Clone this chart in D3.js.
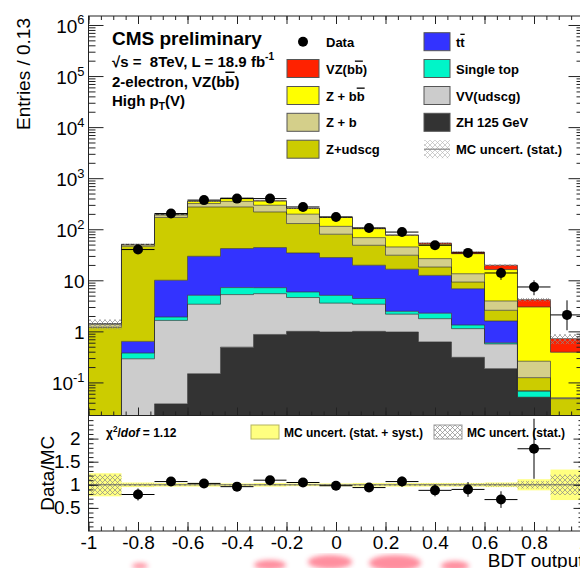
<!DOCTYPE html>
<html>
<head>
<meta charset="utf-8">
<script src="https://cdn.jsdelivr.net/npm/d3@7"></script>
<style>
  body { margin: 0; background: #fff; }
  svg { display: block; font-family: "Liberation Sans", Arial, Helvetica, sans-serif; }
</style>
</head>
<body>
<svg id="chart"></svg>
<script>
// BDT output, 15 bins of 0.133
const binEdges = [-1, -0.8667, -0.7333, -0.6, -0.4667, -0.3333, -0.2, -0.0667, 0.0667, 0.2, 0.3333, 0.4667, 0.6, 0.7333, 0.8667, 1];

// backgrounds, stacked bottom -> top
const zh125     = [0, 0, 0.038, 0.148, 0.49, 0.87, 1.0, 0.97, 1.0, 0.97, 0.62, 0.31, 0.186, 0.051, 0];
const vvUdscg   = [0, 0.29, 1.6, 3.25, 4.76, 4.6, 3.6, 2.6, 2.4, 1.2, 1.15, 0.82, 0.38, 0, 0];
const singleTop = [0, 0.086, 0.27, 1.7, 1.95, 1.7, 1.3, 1.5, 1.0, 0.3, 0.5, 0.2, 0.03, 0.017, 0];
const ttbar     = [0, 0.26, 8.1, 24.4, 34.7, 36.6, 28.4, 22.8, 15.3, 14, 10.2, 5.5, 1.0, 0, 0];
const zUdscg    = [1.2, 45.8, 160, 243, 231, 174, 95, 52, 28.8, 14.5, 5.7, 2.4, 0.99, 0.056, 0.048];
const zB        = [0.2, 3, 20, 46, 78, 77, 68, 34, 20, 14, 8.4, 4.2, 1.35, 0.136, 0.002];
const zBB       = [0, 1, 5, 35, 55, 64, 58, 56, 34, 31, 24.2, 19.8, 12.3, 2.74, 0.34];
const vzBB      = [0, 0.1, 0.1, 0.5, 1, 1, 1.5, 2, 2, 1.5, 2.9, 2.6, 3.5, 1.18, 0.33];

// observed data
const dataCounts = [0, 40, 203, 372, 398, 398, 273, 174, 106, 88, 48.5, 34.4, 13.9, 7.4, 2.1];
const dataErrLo  = [0, 6.3, 14, 19, 20, 20, 16.5, 13, 10, 9.4, 7, 5.9, 3.7, 2.3, 1.05];
const dataErrHi  = [0, 6.3, 14, 19, 20, 20, 16.5, 13, 10, 9.4, 7, 5.9, 3.7, 2.6, 1.95];

// relative MC uncertainties
const mcStatRel = [0.22, 0.03, 0.02, 0.015, 0.015, 0.015, 0.015, 0.015, 0.02, 0.02, 0.025, 0.03, 0.04, 0.08, 0.22];
const mcTotRel  = [0.25, 0.05, 0.04, 0.04, 0.03, 0.04, 0.03, 0.03, 0.04, 0.04, 0.04, 0.04, 0.05, 0.12, 0.33];

// data / MC
const ratioVals = [null, 0.79, 1.07, 1.03, 0.96, 1.10, 1.05, 0.98, 0.94, 1.07, 0.88, 0.90, 0.68, 1.78, null];
const ratioErr  = [0, 0.13, 0.07, 0.05, 0.05, 0.05, 0.06, 0.07, 0.09, 0.11, 0.13, 0.16, 0.18, 0.65, 0];

const xTicks = [-1, -0.8, -0.6, -0.4, -0.2, 0, 0.2, 0.4, 0.6, 0.8, 1];
const logTicks = [0.1, 1, 10, 100, 1e3, 1e4, 1e5, 1e6];
const logTickLabels = ["10^{-1}", "1", "10", "10^{2}", "10^{3}", "10^{4}", "10^{5}", "10^{6}"];
const ratioTicks = [0.5, 1, 1.5, 2];

const keys = ["zh", "vv", "st", "tt", "zudscg", "zb", "zbb", "vz"];
const colors = {
  zh: "#333333", vv: "#cccccc", st: "#00f5c8", tt: "#3333ff",
  zudscg: "#cccc00", zb: "#d4cf8a", zbb: "#ffff00", vz: "#ff2200"
};

const W = 580, H = 568;
const X0 = 88.5, X1 = 583.5;
const upTop = 16, upBot = 415.5, loTop = 415.5, loBot = 531;

const svg = d3.select("#chart").attr("width", W).attr("height", H);

const x = d3.scaleLinear().domain([-1, 1]).range([X0, X1]);
const yUp = d3.scaleLog().domain([0.0225, 1.5e6]).range([upBot, upTop]).clamp(true);
const yLo = d3.scaleLinear().domain([0, 2.5]).range([loBot, loTop]);

const table = binEdges.slice(0, -1).map((lo, i) => ({
  lo, hi: binEdges[i + 1],
  zh: zh125[i], vv: vvUdscg[i], st: singleTop[i], tt: ttbar[i],
  zudscg: zUdscg[i], zb: zB[i], zbb: zBB[i], vz: vzBB[i]
}));
const series = d3.stack().keys(keys)(table);
const totals = table.map(d => d3.sum(keys, k => d[k]));

// text with ^{sup} _{sub} #bar{overline} #it{italic}
function rich(sel, str, size) {
  const re = /#bar\{([^}]*)\}|#it\{([^}]*)\}|\^\{([^}]*)\}|_\{([^}]*)\}|([^#^_]+)/g;
  let m, shift = 0;
  while ((m = re.exec(str)) !== null) {
    let t, target = 0, fs = size, style = null;
    if (m[1] !== undefined) { t = m[1]; style = "text-decoration: overline"; }
    else if (m[2] !== undefined) { t = m[2]; style = "font-style: italic"; }
    else if (m[3] !== undefined) { t = m[3]; target = -0.45 * size; fs = 0.68 * size; }
    else if (m[4] !== undefined) { t = m[4]; target = 0.3 * size; fs = 0.68 * size; }
    else t = m[5];
    const ts = sel.append("tspan").text(t).attr("font-size", fs);
    if (target - shift !== 0) ts.attr("dy", target - shift);
    if (style) ts.attr("style", style);
    shift = target;
  }
  return sel;
}

const defs = svg.append("defs");
defs.append("clipPath").attr("id", "clipUp").append("rect")
  .attr("x", X0).attr("y", upTop).attr("width", X1 - X0).attr("height", upBot - upTop);
defs.append("clipPath").attr("id", "clipLo").append("rect")
  .attr("x", X0).attr("y", loTop).attr("width", X1 - X0).attr("height", loBot - loTop);
defs.append("pattern").attr("id", "hatch").attr("patternUnits", "userSpaceOnUse")
  .attr("width", 5).attr("height", 5)
  .append("path").attr("d", "M0,0L5,5M5,0L0,5").attr("stroke", "#8a8a8a").attr("stroke-width", 0.7);
defs.append("filter").attr("id", "blur").append("feGaussianBlur").attr("stdDeviation", 2.5);

// ---------- upper panel ----------
const up = svg.append("g").attr("clip-path", "url(#clipUp)");
const floor = 1e-6;
const layerPts = s => s.flatMap((d, i) => [
  { x: table[i].lo, y0: d[0], y1: d[1] }, { x: table[i].hi, y0: d[0], y1: d[1] }
]);
const area = d3.area().x(d => x(d.x))
  .y0(d => yUp(Math.max(d.y0, floor))).y1(d => yUp(Math.max(d.y1, floor)));
const topLine = d3.line().x(d => x(d.x)).y(d => yUp(Math.max(d.y1, floor)));

up.selectAll(".layer").data(series).enter().append("path")
  .attr("class", "layer")
  .attr("d", s => area(layerPts(s)))
  .attr("fill", s => colors[s.key]);
up.selectAll(".edge").data(series).enter().append("path")
  .attr("class", "edge")
  .attr("d", s => topLine(layerPts(s)))
  .attr("fill", "none").attr("stroke", "#333").attr("stroke-width", 0.9).attr("stroke-opacity", 0.75);

// MC stat band
up.selectAll(".statband").data(table.filter((d, i) => totals[i] > 0)).enter().append("rect")
  .attr("x", d => x(d.lo)).attr("width", d => x(d.hi) - x(d.lo))
  .attr("y", d => { const i = table.indexOf(d); return yUp(totals[i] * (1 + mcStatRel[i])); })
  .attr("height", d => { const i = table.indexOf(d);
    return yUp(totals[i] * (1 - mcStatRel[i])) - yUp(totals[i] * (1 + mcStatRel[i])); })
  .attr("fill", "url(#hatch)");

// data points
const pts = table.map((d, i) => ({ lo: d.lo, hi: d.hi, c: (d.lo + d.hi) / 2,
  v: dataCounts[i], lo_e: dataErrLo[i], hi_e: dataErrHi[i] })).filter(d => d.v > 0);
const dg = up.append("g").attr("stroke", "#000").attr("stroke-width", 1);
dg.selectAll(".hx").data(pts).enter().append("line")
  .attr("x1", d => x(d.lo)).attr("x2", d => x(d.hi))
  .attr("y1", d => yUp(d.v)).attr("y2", d => yUp(d.v));
dg.selectAll(".vy").data(pts).enter().append("line")
  .attr("x1", d => x(d.c)).attr("x2", d => x(d.c))
  .attr("y1", d => yUp(d.v - d.lo_e)).attr("y2", d => yUp(d.v + d.hi_e));
up.selectAll(".dot").data(pts).enter().append("circle")
  .attr("cx", d => x(d.c)).attr("cy", d => yUp(d.v)).attr("r", 5).attr("fill", "#000");

// ---------- lower panel ----------
const lo = svg.append("g").attr("clip-path", "url(#clipLo)");
lo.selectAll(".totband").data(table).enter().append("rect")
  .attr("x", d => x(d.lo)).attr("width", d => x(d.hi) - x(d.lo))
  .attr("y", (d, i) => yLo(1 + mcTotRel[i]))
  .attr("height", (d, i) => yLo(1 - mcTotRel[i]) - yLo(1 + mcTotRel[i]))
  .attr("fill", "#ffff80");
lo.selectAll(".statband").data(table).enter().append("rect")
  .attr("x", d => x(d.lo)).attr("width", d => x(d.hi) - x(d.lo))
  .attr("y", (d, i) => yLo(1 + mcStatRel[i]))
  .attr("height", (d, i) => yLo(1 - mcStatRel[i]) - yLo(1 + mcStatRel[i]))
  .attr("fill", "url(#hatch)");
lo.append("line").attr("x1", X0).attr("x2", X1).attr("y1", yLo(1)).attr("y2", yLo(1))
  .attr("stroke", "#666").attr("stroke-width", 1);

const rpts = table.map((d, i) => ({ lo: d.lo, hi: d.hi, c: (d.lo + d.hi) / 2, v: ratioVals[i], e: ratioErr[i] }))
  .filter(d => d.v !== null);
const rg = lo.append("g").attr("stroke", "#000").attr("stroke-width", 1);
rg.selectAll(".hx").data(rpts).enter().append("line")
  .attr("x1", d => x(d.lo)).attr("x2", d => x(d.hi)).attr("y1", d => yLo(d.v)).attr("y2", d => yLo(d.v));
rg.selectAll(".vy").data(rpts).enter().append("line")
  .attr("x1", d => x(d.c)).attr("x2", d => x(d.c)).attr("y1", d => yLo(d.v - d.e)).attr("y2", d => yLo(d.v + d.e));
lo.selectAll(".dot").data(rpts).enter().append("circle")
  .attr("cx", d => x(d.c)).attr("cy", d => yLo(d.v)).attr("r", 5).attr("fill", "#000");

// ---------- frames and ticks ----------
[[upTop, upBot], [loTop, loBot]].forEach(([t, b]) => {
  svg.append("rect").attr("x", X0).attr("y", t).attr("width", X1 - X0).attr("height", b - t)
    .attr("fill", "none").attr("stroke", "#222").attr("stroke-width", 1);
});

const xMinor = d3.range(-20, 21).map(v => v / 20);
const noDomain = g => g.select(".domain").remove();
function tickAxis(axis, tx, ty) {
  svg.append("g").attr("transform", `translate(${tx},${ty})`).attr("color", "#222")
    .call(axis).call(noDomain);
}
// upper x ticks, bottom and top
tickAxis(d3.axisBottom(x).tickValues(xTicks).tickSize(-8).tickFormat(""), 0, upBot);
tickAxis(d3.axisBottom(x).tickValues(xMinor).tickSize(-4).tickFormat(""), 0, upBot);
tickAxis(d3.axisTop(x).tickValues(xTicks).tickSize(-8).tickFormat(""), 0, upTop);
tickAxis(d3.axisTop(x).tickValues(xMinor).tickSize(-4).tickFormat(""), 0, upTop);

// upper log y ticks, left and right
const logMinor = [];
for (let e = -2; e <= 6; e++) for (let k = 2; k <= 9; k++) {
  const v = k * Math.pow(10, e);
  if (v > 0.0225 && v < 1.5e6) logMinor.push(v);
}
tickAxis(d3.axisLeft(yUp).tickValues(logTicks).tickSize(-15).tickFormat(""), X0, 0);
tickAxis(d3.axisLeft(yUp).tickValues(logMinor).tickSize(-7).tickFormat(""), X0, 0);
tickAxis(d3.axisRight(yUp).tickValues(logTicks).tickSize(-15).tickFormat(""), X1, 0);
tickAxis(d3.axisRight(yUp).tickValues(logMinor).tickSize(-7).tickFormat(""), X1, 0);

const logLab = svg.append("g").attr("font-size", 19).attr("fill", "#000");
logTicks.forEach((v, i) => {
  const t = logLab.append("text").attr("x", X0 - 4).attr("y", yUp(v) + 8).attr("text-anchor", "end");
  rich(t, logTickLabels[i], 19);
});

// lower ticks
const rMinor = d3.range(1, 25).map(v => v / 10);
tickAxis(d3.axisBottom(x).tickValues(xTicks).tickSize(-9).tickPadding(5).tickFormat(d => String(d)), 0, loBot);
tickAxis(d3.axisBottom(x).tickValues(xMinor).tickSize(-4.5).tickFormat(""), 0, loBot);
tickAxis(d3.axisLeft(yLo).tickValues(ratioTicks).tickSize(-10).tickPadding(8).tickFormat(d => String(d)), X0, 0);
tickAxis(d3.axisLeft(yLo).tickValues(rMinor).tickSize(-5).tickFormat(""), X0, 0);
tickAxis(d3.axisRight(yLo).tickValues(ratioTicks).tickSize(-10).tickFormat(""), X1, 0);
tickAxis(d3.axisRight(yLo).tickValues(rMinor).tickSize(-5).tickFormat(""), X1, 0);
svg.selectAll(".tick text").attr("font-size", 19).attr("fill", "#000")
  .attr("font-family", "'Liberation Sans', Arial, sans-serif");

// axis titles
svg.append("text").attr("transform", "translate(30,18) rotate(-90)").attr("text-anchor", "end")
  .attr("font-size", 19).text("Entries / 0.13");
svg.append("text").attr("transform", `translate(54,${(loTop + loBot) / 2}) rotate(-90)`).attr("text-anchor", "middle")
  .attr("font-size", 19).text("Data/MC");
svg.append("text").attr("x", X1).attr("y", 566.5).attr("text-anchor", "end").attr("font-size", 19).text("BDT output");

// ---------- texts ----------
const info = svg.append("g").attr("font-weight", "bold");
info.append("text").attr("x", 112).attr("y", 45).attr("font-size", 19).text("CMS preliminary");
rich(info.append("text").attr("x", 112).attr("y", 67).attr("style", "white-space: pre"),
  "√s =  8TeV, L = 18.9 fb^{-1}", 15);
rich(info.append("text").attr("x", 112).attr("y", 86.5), "2-electron, VZ(b#bar{b})", 15);
rich(info.append("text").attr("x", 112).attr("y", 105.5), "High p_{T}(V)", 15);

// legend
const rowY = [41.7, 68.5, 95.5, 122.3, 149.2];
const leg = svg.append("g").attr("font-weight", "bold").attr("font-size", 13);
const legCol1 = [["Data", null], ["VZ(b#bar{b})", "vz"], ["Z + b#bar{b}", "zbb"], ["Z + b", "zb"], ["Z+udscg", "zudscg"]];
const legCol2 = [["t#bar{t}", "tt"], ["Single top", "st"], ["VV(udscg)", "vv"], ["ZH 125 GeV", "zh"], ["MC uncert. (stat.)", "hatch"]];
legCol1.forEach(([lab, k], i) => {
  if (k === null) leg.append("circle").attr("cx", 303).attr("cy", rowY[i]).attr("r", 5).attr("fill", "#000");
  else leg.append("rect").attr("x", 287).attr("y", rowY[i] - 9).attr("width", 32).attr("height", 18)
    .attr("fill", colors[k]).attr("stroke", "#555").attr("stroke-width", 1);
  rich(leg.append("text").attr("x", 326).attr("y", rowY[i] + 5), lab, 13);
});
legCol2.forEach(([lab, k], i) => {
  if (k === "hatch") {
    leg.append("rect").attr("x", 424).attr("y", rowY[i] - 9).attr("width", 26).attr("height", 18)
      .attr("fill", "url(#hatch)").attr("opacity", 0.6);
    leg.append("line").attr("x1", 424).attr("x2", 450).attr("y1", rowY[i]).attr("y2", rowY[i])
      .attr("stroke", "#888").attr("stroke-width", 1.2);
  } else leg.append("rect").attr("x", 424).attr("y", rowY[i] - 9).attr("width", 26).attr("height", 18)
    .attr("fill", colors[k]).attr("stroke", "#555").attr("stroke-width", 1);
  rich(leg.append("text").attr("x", 456).attr("y", rowY[i] + 5), lab, 13);
});

// ratio legend
const rl = svg.append("g").attr("font-weight", "bold").attr("font-size", 12);
rich(rl.append("text").attr("x", 106).attr("y", 437), "χ^{2}/#it{dof} = 1.12", 12);
rl.append("rect").attr("x", 251).attr("y", 425).attr("width", 28).attr("height", 14)
  .attr("fill", "#ffff80").attr("stroke", "#b5b560");
rl.append("text").attr("x", 284).attr("y", 436.5).text("MC uncert. (stat. + syst.)");
rl.append("rect").attr("x", 434).attr("y", 425).attr("width", 28).attr("height", 14)
  .attr("fill", "url(#hatch)").attr("stroke", "#999");
rl.append("text").attr("x", 467).attr("y", 436.5).text("MC uncert. (stat.)");

// bleed from the figure below
const bleed = svg.append("g").attr("filter", "url(#blur)").attr("fill", "#ff3050").attr("opacity", 0.55);
[[140, 566, 8, 3], [270, 565, 16, 5], [330, 562, 22, 7], [395, 563, 26, 8], [455, 566, 14, 5]]
  .forEach(([cx, cy, rx, ry]) => bleed.append("ellipse").attr("cx", cx).attr("cy", cy).attr("rx", rx).attr("ry", ry));
</script>
</body>
</html>
